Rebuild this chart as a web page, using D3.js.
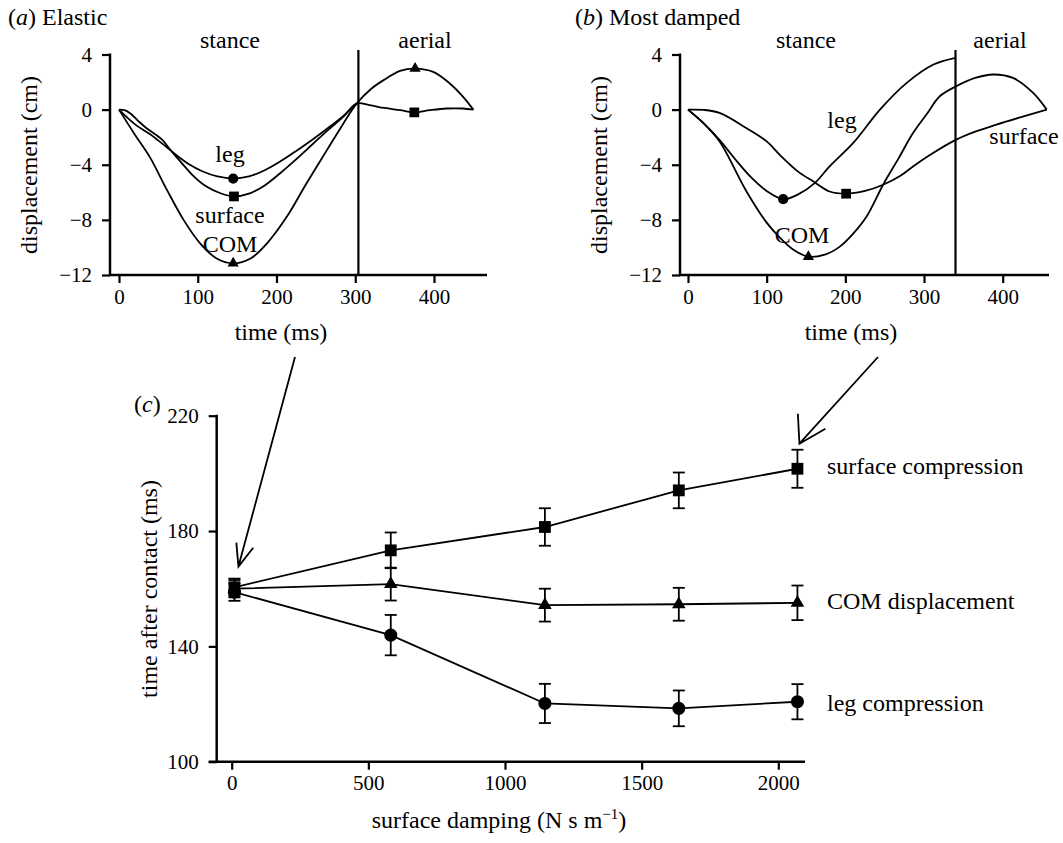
<!DOCTYPE html>
<html><head><meta charset="utf-8">
<script src="https://cdn.jsdelivr.net/npm/d3@7"></script>
<style>
body{margin:0;background:#fff}
svg{display:block}
text{font-family:"Liberation Serif","Times New Roman",serif;fill:#000}
</style>
</head><body>
<svg id="fig" width="1063" height="843"></svg>
<script>
// ---------- data ----------
const timeTicks = [0, 100, 200, 300, 400];
const dispTicks = [-12, -8, -4, 0, 4];

// (a) Elastic
const aLegT  = [0,10,20,30,40,50,60,75,90,105,125,145,165,185,205,225,245,265,285,302];
const aLegV  = [0,-0.55,-1.05,-1.45,-1.8,-2.25,-2.7,-3.4,-4.0,-4.45,-4.85,-5.0,-4.85,-4.4,-3.75,-3.0,-2.2,-1.35,-0.45,0.45];
const aSurfT = [0,8,15,25,35,45,55,65,80,95,110,128,146,165,185,205,225,245,265,285,302,318,337,357,375,395,416,437,450];
const aSurfV = [0,-0.05,-0.3,-0.85,-1.35,-1.75,-2.2,-2.9,-3.9,-4.85,-5.55,-6.05,-6.3,-6.1,-5.5,-4.6,-3.6,-2.55,-1.5,-0.5,0.45,0.33,0.12,-0.04,-0.2,-0.04,0.08,0.08,0];
const aComT  = [0,20,39,61,82,103,124,145,167,188,213,238,264,285,302,320,336,357,376,399,420,437,450];
const aComV  = [0,-1.8,-3.43,-5.84,-8.0,-9.7,-10.8,-11.15,-10.8,-9.7,-7.78,-5.36,-2.94,-1.0,0.45,1.5,2.14,2.81,2.98,2.74,1.9,0.93,0];
const aMarkLeg  = [[145, -5.0]];
const aMarkSurf = [[146, -6.3], [375, -0.2]];
const aMarkCom  = [[145, -11.15], [376, 2.98]];
const aAerialStart = 304;

// (b) Most damped
const bLegT  = [0,20,40,60,80,100,121,140,161,180,210,244,278,312,340];
const bLegV  = [0,-1.0,-2.2,-3.6,-4.9,-5.9,-6.5,-6.15,-5.33,-4.12,-2.42,0,1.94,3.27,3.76];
const bSurfT = [0,20,40,74,100,117,140,159,180,201,225,248,270,286,310,341,365,392,420,456];
const bSurfV = [0,-0.02,-0.24,-1.33,-2.3,-3.3,-4.5,-5.2,-5.94,-6.1,-5.9,-5.45,-4.8,-4.12,-3.2,-2.18,-1.6,-1.09,-0.6,0];
const bComT  = [0,20,40,74,100,117,135,153,175,193,210,227,248,268,286,304,320,341,365,388,413,439,456];
const bComV  = [0,-1.0,-2.3,-5.9,-8.2,-9.3,-10.2,-10.67,-10.5,-9.94,-9.0,-7.76,-5.45,-3.5,-1.7,-0.28,0.97,1.7,2.3,2.55,2.3,1.2,0];
const bMarkLeg  = [[121, -6.5]];
const bMarkSurf = [[201, -6.1]];
const bMarkCom  = [[153, -10.67]];
const bAerialStart = 340;

// (c) timing vs damping
const damping  = [10, 582, 1146, 1636, 2070];
const surfMean = [160.5, 173.3, 181.4, 194.1, 201.6];
const surfErr  = [3, 6.2, 6.5, 6.2, 6.6];
const comMean  = [160, 161.6, 154.3, 154.6, 155.1];
const comErr   = [3, 5.7, 5.7, 5.7, 6];
const legMean  = [158.8, 143.9, 120.2, 118.5, 120.8];
const legErr   = [3, 7, 6.8, 6.2, 6.1];
const dampTicks = [0, 500, 1000, 1500, 2000];
const cTimeTicks = [100, 140, 180, 220];

// ---------- drawing ----------
const FONT = '"Liberation Serif","Times New Roman",serif';
const WORD = 24, NUM = 21;
const svg = d3.select('#fig');
const minus = d => d < 0 ? '\u2212' + Math.abs(d) : String(d);

function styleAxis(g) {
  g.attr('font-family', FONT).attr('font-size', NUM);
  g.select('.domain').remove();
  g.selectAll('line').attr('stroke', '#000').attr('stroke-width', 2.2);
  g.selectAll('text').attr('fill', '#000');
}
function label(g, x, y, txt, anchor, size) {
  return g.append('text').attr('x', x).attr('y', y)
    .attr('text-anchor', anchor || 'middle').attr('font-size', size || WORD).text(txt);
}
function marker(g, pts, x, y, type, size) {
  g.selectAll(null).data(pts).enter().append('path')
    .attr('d', d3.symbol().type(type).size(size))
    .attr('transform', d => `translate(${x(d[0])},${y(d[1])})`)
    .attr('fill', '#000');
}

function timePanel(p) {
  const g = svg.append('g');
  const x = d3.scaleLinear().domain([0, 400]).range(p.xr);
  const y = d3.scaleLinear().domain([-12, 4]).range([275, 54.5]);
  const gx = g.append('g').attr('transform', 'translate(0,275)')
    .call(d3.axisBottom(x).tickValues(timeTicks).tickSize(8).tickSizeOuter(0).tickPadding(6).tickFormat(String));
  const gy = g.append('g').attr('transform', `translate(${p.axisX},0)`)
    .call(d3.axisLeft(y).tickValues(dispTicks).tickSize(8).tickSizeOuter(0).tickPadding(10).tickFormat(minus));
  styleAxis(gx); styleAxis(gy);
  g.append('line').attr('x1', p.axisX - 1).attr('x2', p.xEnd).attr('y1', 275).attr('y2', 275)
    .attr('stroke', '#000').attr('stroke-width', 2.5);
  g.append('line').attr('x1', p.axisX).attr('x2', p.axisX).attr('y1', y(4) - 1).attr('y2', 276)
    .attr('stroke', '#000').attr('stroke-width', 2.5);
  g.append('line').attr('x1', x(p.vt)).attr('x2', x(p.vt)).attr('y1', 50).attr('y2', 275)
    .attr('stroke', '#000').attr('stroke-width', 2.2);

  const line = d3.line().x(d => x(d[0])).y(d => y(d[1])).curve(d3.curveCatmullRom.alpha(0.5));
  p.curves.forEach(c => {
    g.append('path').attr('d', line(d3.zip(c[0], c[1])))
      .attr('fill', 'none').attr('stroke', '#000').attr('stroke-width', 1.8);
  });
  marker(g, p.mLeg, x, y, d3.symbolCircle, 82);
  marker(g, p.mSurf, x, y, d3.symbolSquare, 95);
  marker(g, p.mCom, x, y, d3.symbolTriangle, 55);

  const t = g.append('text').attr('x', p.titleX).attr('y', 25).attr('font-size', WORD);
  t.append('tspan').text('(');
  t.append('tspan').attr('font-style', 'italic').text(p.letter);
  t.append('tspan').text(') ' + p.title);
  label(g, p.stanceX, 48, 'stance');
  label(g, p.aerialX, 48, 'aerial');
  label(g, p.timeX, 340, 'time (ms)');
  g.append('text').attr('transform', `translate(${p.ylabX},165) rotate(-90)`)
    .attr('text-anchor', 'middle').attr('font-size', WORD).text('displacement (cm)');
  p.labels.forEach(l => label(g, l[1], l[2], l[0]));
}

timePanel({
  xr: [119, 434], axisX: 110, xEnd: 487, vt: aAerialStart,
  curves: [[aLegT, aLegV], [aSurfT, aSurfV], [aComT, aComV]],
  mLeg: aMarkLeg, mSurf: aMarkSurf, mCom: aMarkCom,
  titleX: 8, letter: 'a', title: 'Elastic',
  stanceX: 230, aerialX: 425, timeX: 281, ylabX: 37,
  labels: [['leg', 230, 162], ['surface', 230, 223], ['COM', 230, 252]]
});
timePanel({
  xr: [688, 1002.7], axisX: 680, xEnd: 1049, vt: bAerialStart,
  curves: [[bLegT, bLegV], [bSurfT, bSurfV], [bComT, bComV]],
  mLeg: bMarkLeg, mSurf: bMarkSurf, mCom: bMarkCom,
  titleX: 575, letter: 'b', title: 'Most damped',
  stanceX: 806, aerialX: 1000, timeX: 851, ylabX: 607,
  labels: [['leg', 842, 128], ['surface', 1024, 144], ['COM', 802, 243]]
});

// ---------- panel (c) ----------
const gc = svg.append('g');
const xc = d3.scaleLinear().domain([0, 2000]).range([231.7, 778.3]);
const yc = d3.scaleLinear().domain([100, 220]).range([761.7, 415.7]);
const gcx = gc.append('g').attr('transform', 'translate(0,761.7)')
  .call(d3.axisBottom(xc).tickValues(dampTicks).tickSize(8).tickSizeOuter(0).tickPadding(5).tickFormat(String));
const gcy = gc.append('g').attr('transform', 'translate(216.7,0)')
  .call(d3.axisLeft(yc).tickValues(cTimeTicks).tickSize(8).tickSizeOuter(0).tickPadding(10).tickFormat(String));
styleAxis(gcx); styleAxis(gcy);
gc.append('line').attr('x1', 208.7).attr('x2', 805).attr('y1', 761.7).attr('y2', 761.7)
  .attr('stroke', '#000').attr('stroke-width', 2.5);
gc.append('line').attr('x1', 216.7).attr('x2', 216.7).attr('y1', yc(220) - 1).attr('y2', 763)
  .attr('stroke', '#000').attr('stroke-width', 2.5);

const series = [
  {mean: surfMean, err: surfErr, sym: d3.symbolSquare, size: 140, name: 'surface compression'},
  {mean: comMean, err: comErr, sym: d3.symbolTriangle, size: 80, name: 'COM displacement'},
  {mean: legMean, err: legErr, sym: d3.symbolCircle, size: 135, name: 'leg compression'}
];
const cline = d3.line().x(d => xc(d[0])).y(d => yc(d[1]));
series.forEach(s => {
  const pts = damping.map((d, i) => [d, s.mean[i], s.err[i]]);
  gc.append('path').attr('d', cline(pts)).attr('fill', 'none').attr('stroke', '#000').attr('stroke-width', 1.8);
  const eb = gc.selectAll(null).data(pts).enter().append('g');
  eb.append('line').attr('x1', d => xc(d[0])).attr('x2', d => xc(d[0]))
    .attr('y1', d => yc(d[1] - d[2])).attr('y2', d => yc(d[1] + d[2]))
    .attr('stroke', '#000').attr('stroke-width', 1.8);
  [-1, 1].forEach(k => {
    eb.append('line').attr('x1', d => xc(d[0]) - 6).attr('x2', d => xc(d[0]) + 6)
      .attr('y1', d => yc(d[1] + k * d[2])).attr('y2', d => yc(d[1] + k * d[2]))
      .attr('stroke', '#000').attr('stroke-width', 1.8);
  });
  marker(gc, pts, xc, yc, s.sym, s.size);
});
label(gc, 827, 474, 'surface compression', 'start');
label(gc, 827, 608.5, 'COM displacement', 'start');
label(gc, 827, 710.5, 'leg compression', 'start');

const ct = gc.append('text').attr('x', 134).attr('y', 412).attr('font-size', WORD);
ct.append('tspan').text('(');
ct.append('tspan').attr('font-style', 'italic').text('c');
ct.append('tspan').text(')');
gc.append('text').attr('transform', 'translate(157,589) rotate(-90)')
  .attr('text-anchor', 'middle').attr('font-size', WORD).text('time after contact (ms)');
const xl = gc.append('text').attr('x', 499).attr('y', 828).attr('text-anchor', 'middle').attr('font-size', WORD);
xl.append('tspan').text('surface damping (N s m');
xl.append('tspan').attr('font-size', 15).attr('dy', -9).text('\u22121');
xl.append('tspan').attr('dy', 9).text(')');

// arrows linking panels (a),(b) to the first and last damping values
function arrow(x1, y1, x2, y2, wings) {
  const p = d3.path();
  p.moveTo(x1, y1); p.lineTo(x2, y2);
  const r = Math.PI / 180;
  p.moveTo(x2 + wings[2] * Math.cos(wings[0] * r), y2 + wings[2] * Math.sin(wings[0] * r));
  p.lineTo(x2, y2);
  p.lineTo(x2 + wings[2] * Math.cos(wings[1] * r), y2 + wings[2] * Math.sin(wings[1] * r));
  svg.append('path').attr('d', p.toString()).attr('fill', 'none')
    .attr('stroke', '#000').attr('stroke-width', 1.8);
}
arrow(295, 357, xc(damping[0]) + 4, yc(surfMean[0] + surfErr[0]) - 12, [-95, -52, 24]);
const last = damping.length - 1;
arrow(878, 357, xc(damping[last]) + 2, yc(surfMean[last] + surfErr[last]) - 6, [-93, -30, 30]);
</script>
</body></html>
